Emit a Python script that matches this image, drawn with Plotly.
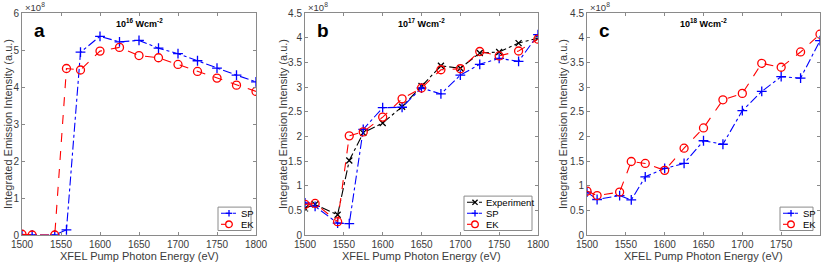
import plotly.graph_objects as go

# ---------------- data ----------------
energy = [1500, 1513, 1542, 1557, 1575, 1600, 1625, 1650, 1675, 1700, 1725, 1750, 1775, 1800]

a_sp = [0.01, 0.0, 0.0, 0.14, 4.94, 5.37, 5.22, 5.26, 5.05, 4.90, 4.71, 4.51, 4.32, 4.14]
a_ek = [0.02, 0.0, 0.0, 4.50, 4.46, 4.97, 5.07, 4.85, 4.79, 4.61, 4.42, 4.24, 4.05, 3.88]

b_exp = [0.54, 0.62, 0.41, 1.51, 2.07, 2.27, 2.60, 3.02, 3.43, 3.38, 3.69, 3.71, 3.89, 3.99]
b_sp = [0.65, 0.58, 0.24, 0.23, 2.14, 2.58, 2.59, 2.98, 2.86, 3.24, 3.46, 3.58, 3.52, 4.06]
b_ek = [0.62, 0.64, 0.27, 2.01, 2.09, 2.39, 2.76, 2.98, 3.35, 3.37, 3.72, 3.63, 3.73, 3.97]

c_sp = [0.87, 0.72, 0.80, 0.71, 1.18, 1.35, 1.45, 1.91, 1.84, 2.52, 2.91, 3.21, 3.18, 3.94]
c_ek = [0.89, 0.80, 0.87, 1.49, 1.45, 1.31, 1.76, 2.17, 2.74, 2.87, 3.48, 3.40, 3.71, 4.07]

x_ticks = [1500, 1550, 1600, 1650, 1700, 1750, 1800]
ya_ticks = [0, 1, 2, 3, 4, 5, 6]
ybc_ticks = [0, 0.5, 1, 1.5, 2, 2.5, 3, 3.5, 4, 4.5]
ybc_labels = ["0", "0.5", "1", "1.5", "2", "2.5", "3", "3.5", "4", "4.5"]

panel_letters = ["a", "b", "c"]
panel_titles = ["10<sup>16</sup> Wcm<sup>-2</sup>", "10<sup>17</sup> Wcm<sup>-2</sup>", "10<sup>18</sup> Wcm<sup>-2</sup>"]

# ---------------- layout geometry ----------------
W, H = 831, 265
px_dom = [(22, 256), (305, 538), (587, 820)]
ytitle_x = [8, 283, 563]
y_top, y_bot = 13, 235
FONT = "Liberation Sans, Arial, Helvetica, sans-serif"
TXT = "#3a3a3a"
AXC = "#8a8a8a"

BLUE = "#0000ff"
RED = "#ff0000"
BLACK = "#000000"

STYLE = {
    "SP": (BLUE, "dashdot", "cross-thin", 7),
    "EK": (RED, "dash", "circle-open", 8),
    "Experiment": (BLACK, "dashdot", "x-thin", 6),
}

def xd(p):
    return [p[0] / W, p[1] / W]

ydom = [1 - y_bot / H, 1 - y_top / H]

fig = go.Figure()

def add(x, y, name, xa, ya):
    color, dash, symbol, size = STYLE[name]
    fig.add_trace(go.Scatter(
        x=x, y=y, name=name, mode="lines+markers", showlegend=False,
        line=dict(color=color, width=1.1, dash=dash),
        marker=dict(symbol=symbol, size=size, color=color,
                    line=dict(color=color, width=1.3)),
        xaxis=xa, yaxis=ya))

add(energy, a_sp, "SP", "x", "y")
add(energy, a_ek, "EK", "x", "y")

add(energy, b_exp, "Experiment", "x2", "y2")
add(energy, b_sp, "SP", "x2", "y2")
add(energy, b_ek, "EK", "x2", "y2")

add(energy, c_sp, "SP", "x3", "y3")
add(energy, c_ek, "EK", "x3", "y3")

axis_common = dict(showline=True, linecolor=AXC, linewidth=1, mirror="ticks",
                   ticks="inside", ticklen=3, tickcolor=AXC, showgrid=False,
                   zeroline=False, automargin=False,
                   tickfont=dict(family=FONT, size=10, color=TXT))

layout = dict(
    width=W, height=H, margin=dict(l=0, r=0, t=0, b=0, autoexpand=False),
    paper_bgcolor="white", plot_bgcolor="white", showlegend=False,
    font=dict(family=FONT, size=10, color=TXT),
)

for i in range(3):
    sfx = "" if i == 0 else str(i + 1)
    layout["xaxis" + sfx] = dict(domain=xd(px_dom[i]), range=[1500, 1800],
                                 tickvals=x_ticks, anchor="y" + sfx, **axis_common)
    if i == 0:
        layout["yaxis" + sfx] = dict(domain=ydom, range=[0, 6], tickvals=ya_ticks,
                                     anchor="x" + sfx, **axis_common)
    else:
        layout["yaxis" + sfx] = dict(domain=ydom, range=[0, 4.5], tickvals=ybc_ticks,
                                     ticktext=ybc_labels, anchor="x" + sfx, **axis_common)

annotations = []
shapes = []

def P(xp, yp):
    return xp / W, 1 - yp / H

for i in range(3):
    x0, x1 = px_dom[i]
    cx = (x0 + x1) / 2
    annotations.append(dict(text="<b>%s</b>" % panel_letters[i], x=(x0 + 10) / W, y=1 - 31 / H,
                            xref="paper", yref="paper", xanchor="left", yanchor="middle",
                            showarrow=False, font=dict(family=FONT, size=19, color="#000")))
    annotations.append(dict(text="<b>%s</b>" % panel_titles[i], x=cx / W, y=1 - 23 / H,
                            xref="paper", yref="paper", xanchor="center", yanchor="middle",
                            showarrow=False, font=dict(family=FONT, size=9, color="#000")))
    annotations.append(dict(text="\u00d710<sup>8</sup>", x=(x0 + 1) / W, y=1 - 15 / H,
                            xref="paper", yref="paper", xanchor="left", yanchor="bottom",
                            showarrow=False, font=dict(family=FONT, size=9.5, color=TXT)))
    annotations.append(dict(text="XFEL Pump Photon Energy (eV)", x=cx / W, y=1 - 256 / H,
                            xref="paper", yref="paper", xanchor="center", yanchor="middle",
                            showarrow=False, font=dict(family=FONT, size=11, color=TXT)))
    annotations.append(dict(text="Integrated Emission Intensity (a.u.)", x=ytitle_x[i] / W,
                            y=1 - ((y_top + y_bot) / 2) / H, xref="paper", yref="paper",
                            xanchor="center", yanchor="middle", textangle=-90,
                            showarrow=False, font=dict(family=FONT, size=11, color=TXT)))

# ---------------- compact MATLAB-style legends ----------------
def legend(bx0, bx1, by1, names):
    n = len(names)
    by0 = by1 - (2 * 6.2 + (n - 1) * 11.0)
    xa, ya = P(bx0, by0)
    xb, yb = P(bx1, by1)
    shapes.append(dict(type="rect", xref="paper", yref="paper", x0=xa, x1=xb, y0=yb, y1=ya,
                       line=dict(color=AXC, width=1), fillcolor="white", layer="above"))
    for k, nm in enumerate(names):
        color, dash, symbol, size = STYLE[nm]
        yy = by0 + 6.2 + k * 11.0
        lx0, ly = P(bx0 + 3, yy)
        lx1, _ = P(bx0 + 19, yy)
        shapes.append(dict(type="line", xref="paper", yref="paper", x0=lx0, x1=lx1, y0=ly, y1=ly,
                           line=dict(color=color, width=1.1, dash=dash), layer="above"))
        mx = bx0 + 11
        r = 3.3
        if symbol == "circle-open":
            ax0, ay0 = P(mx - r, yy - r)
            ax1, ay1 = P(mx + r, yy + r)
            shapes.append(dict(type="circle", xref="paper", yref="paper", x0=ax0, x1=ax1,
                               y0=ay1, y1=ay0, line=dict(color=color, width=1.3),
                               fillcolor="white", layer="above"))
        elif symbol == "cross-thin":
            for (dx0, dy0, dx1, dy1) in [(-r, 0, r, 0), (0, -r, 0, r)]:
                ax0, ay0 = P(mx + dx0, yy + dy0)
                ax1, ay1 = P(mx + dx1, yy + dy1)
                shapes.append(dict(type="line", xref="paper", yref="paper", x0=ax0, x1=ax1,
                                   y0=ay0, y1=ay1, line=dict(color=color, width=1.3), layer="above"))
        else:
            rr = 2.6
            for (dx0, dy0, dx1, dy1) in [(-rr, -rr, rr, rr), (-rr, rr, rr, -rr)]:
                ax0, ay0 = P(mx + dx0, yy + dy0)
                ax1, ay1 = P(mx + dx1, yy + dy1)
                shapes.append(dict(type="line", xref="paper", yref="paper", x0=ax0, x1=ax1,
                                   y0=ay0, y1=ay1, line=dict(color=color, width=1.3), layer="above"))
        tx, ty = P(bx0 + 20.5, yy)
        annotations.append(dict(text=nm, x=tx, y=ty, xref="paper", yref="paper",
                                xanchor="left", yanchor="middle", showarrow=False,
                                font=dict(family=FONT, size=9.5, color="#000")))

legend(218, 251, 230.5, ["SP", "EK"])
legend(464, 532, 230.5, ["Experiment", "SP", "EK"])
legend(780, 813, 230.5, ["SP", "EK"])

layout["annotations"] = annotations
layout["shapes"] = shapes
fig.update_layout(**layout)
fig.write_html("out.html", config={"displayModeBar": False},
               post_script="document.body.style.margin='0';document.body.style.overflow='hidden';")
